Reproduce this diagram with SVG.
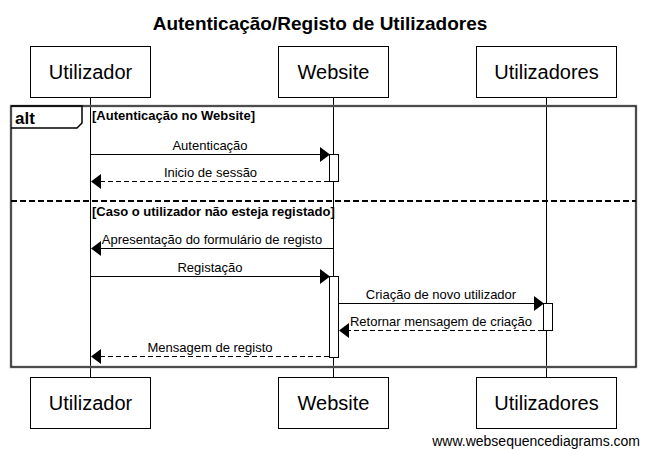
<svg xmlns="http://www.w3.org/2000/svg" width="645" height="450" viewBox="0 0 645 450">
<defs>
<style>
text{font-family:"Liberation Sans",Arial,sans-serif;fill:#000}
.title{font-size:19px;font-weight:bold;text-anchor:middle}
.pt{font-size:20px;text-anchor:middle}
.msg{font-size:13px;text-anchor:middle}
.cond{font-size:13px;font-weight:bold}
.box{fill:#fff;stroke:#000;stroke-width:1}
.life{stroke:#000;stroke-width:1;fill:none}
.act{fill:#fff;stroke:#000;stroke-width:1}
.line{stroke:#000;stroke-width:1;fill:none}
.dash{stroke:#000;stroke-width:1;fill:none;stroke-dasharray:5,3}
.ah{fill:#000}
</style>
</defs>
<rect width="645" height="450" fill="#fff"/>
<text class="title" x="320" y="30">Autenticação/Registo de Utilizadores</text>

<g id="lifelines">
<line class="life" x1="90.5" y1="97" x2="90.5" y2="377"/>
<line class="life" x1="333.5" y1="97" x2="333.5" y2="377"/>
<line class="life" x1="546.5" y1="97" x2="546.5" y2="377"/>
</g>

<g id="alt-frame">
<rect x="11" y="106" width="625" height="261" fill="none" stroke="#999" stroke-width="2.5"/>
<rect x="11" y="106" width="625" height="261" fill="none" stroke="#000" stroke-width="1"/>
<path d="M11,106 H82 V123 L77,128 H11" fill="none" stroke="#000" stroke-width="1.5"/>
<text x="15" y="124" style="font-size:17px;font-weight:bold">alt</text>
<text class="cond" x="92" y="120">[Autenticação no Website]</text>
<line x1="11" y1="201" x2="636" y2="201" stroke="#000" stroke-width="2" stroke-dasharray="6,3"/>
<text class="cond" x="92" y="216">[Caso o utilizador não esteja registado]</text>
</g>

<g id="activations">
<rect class="act" x="329.5" y="154.5" width="9" height="27"/>
<rect class="act" x="329.5" y="276.5" width="9" height="81"/>
<rect class="act" x="543.5" y="303.5" width="9" height="27"/>
</g>

<g id="connectors">
<line class="line" x1="90.5" y1="154.5" x2="321" y2="154.5"/>
<path class="ah" d="M330,154.5 L320,147 L320,162 Z"/>
<text class="msg" x="210" y="150">Autenticação</text>

<line class="dash" x1="329" y1="181.5" x2="100" y2="181.5"/>
<path class="ah" d="M91,181.5 L101,174 L101,189 Z"/>
<text class="msg" x="210.5" y="177">Inicio de sessão</text>

<line class="line" x1="333.5" y1="248.5" x2="100" y2="248.5"/>
<path class="ah" d="M91,248.5 L101,241 L101,256 Z"/>
<text class="msg" x="212" y="244">Apresentação do formulário de registo</text>

<line class="line" x1="90.5" y1="276.5" x2="321" y2="276.5"/>
<path class="ah" d="M330,276.5 L320,269 L320,284 Z"/>
<text class="msg" x="210" y="272">Registação</text>

<line class="line" x1="338.5" y1="303.5" x2="535" y2="303.5"/>
<path class="ah" d="M544,303.5 L534,296 L534,311 Z"/>
<text class="msg" x="441" y="299">Criação de novo utilizador</text>

<line class="dash" x1="543" y1="330.5" x2="348" y2="330.5"/>
<path class="ah" d="M339,330.5 L349,323 L349,338 Z"/>
<text class="msg" x="441" y="326">Retornar mensagem de criação</text>

<line class="dash" x1="329" y1="356.5" x2="100" y2="356.5"/>
<path class="ah" d="M91,356.5 L101,349 L101,364 Z"/>
<text class="msg" x="210" y="352">Mensagem de registo</text>
</g>

<g id="p-utilizador">
<rect class="box" x="30.5" y="46.5" width="120" height="51"/>
<text class="pt" x="90.5" y="79">Utilizador</text>
<rect class="box" x="30.5" y="377.5" width="120" height="51"/>
<text class="pt" x="90.5" y="410">Utilizador</text>
</g>
<g id="p-website">
<rect class="box" x="278.5" y="46.5" width="110" height="51"/>
<text class="pt" x="333.5" y="79">Website</text>
<rect class="box" x="278.5" y="377.5" width="110" height="51"/>
<text class="pt" x="333.5" y="410">Website</text>
</g>
<g id="p-utilizadores">
<rect class="box" x="476.5" y="46.5" width="140" height="51"/>
<text class="pt" x="546.5" y="79">Utilizadores</text>
<rect class="box" x="476.5" y="377.5" width="140" height="51"/>
<text class="pt" x="546.5" y="410">Utilizadores</text>
</g>

<text x="640" y="446" style="font-size:14px;text-anchor:end">www.websequencediagrams.com</text>
</svg>
